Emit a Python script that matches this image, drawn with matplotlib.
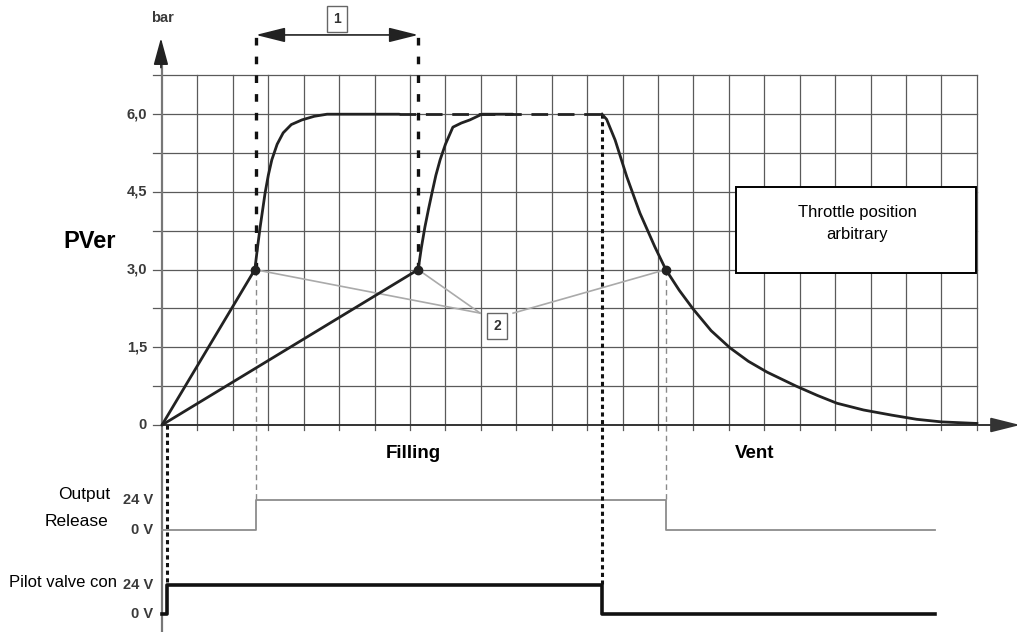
import matplotlib
matplotlib.use("Agg")
import matplotlib.pyplot as plt
from matplotlib.patches import Rectangle

plt.rcParams['lines.scale_dashes'] = False
plain = 'Liberation Sans'

# pressure axis (bar), grid in cells of 0.75 bar / one time step
y_ticks = [0, 1.5, 3.0, 4.5, 6.0]
y_tick_labels = ["0", "1,5", "3,0", "4,5", "6,0"]
grid_cols = 23
grid_top = 6.75

# filling curve 1 (throttle open wide)
fill1_x = [0, 2.62, 2.7, 2.77, 2.84, 2.91, 3.0, 3.1, 3.25, 3.42, 3.65, 3.95, 4.3, 4.66, 6.7]
fill1_y = [0, 3.0, 3.45, 3.82, 4.15, 4.48, 4.82, 5.12, 5.42, 5.64, 5.8, 5.89, 5.96, 6.0, 6.0]

# filling curve 2 (throttle nearly closed)
fill2_x = [0, 7.23, 7.32, 7.42, 7.52, 7.62, 7.73, 7.85, 8.0, 8.21, 8.45, 8.69, 9.03, 9.9]
fill2_y = [0, 3.0, 3.42, 3.82, 4.16, 4.48, 4.82, 5.12, 5.42, 5.75, 5.83, 5.89, 6.0, 6.0]

# dashed hold level between the two curves
hold_x = [6.7, 12.42]
hold_y = [6.0, 6.0]

# vent curve
vent_x = [12.42, 12.55, 12.79, 13.12, 13.49, 13.91, 14.22, 14.6, 14.99, 15.5, 16.03, 16.55,
          17.08, 17.9, 18.5, 19.05, 19.8, 20.6, 21.3, 22.0, 23.0]
vent_y = [6.0, 5.9, 5.5, 4.79, 4.09, 3.44, 3.0, 2.6, 2.24, 1.82, 1.49, 1.23,
          1.02, 0.75, 0.57, 0.42, 0.29, 0.19, 0.11, 0.06, 0.03]

# switching points at 3,0 bar
dots_x = [2.62, 7.23, 14.22]
dots_y = [3.0, 3.0, 3.0]

# signal traces (levels placed below the pressure axis)
release_x = [0, 2.65, 2.65, 14.22, 14.22, 21.82]
release_y = [-2.03, -2.03, -1.45, -1.45, -2.03, -2.03]
pilot_x = [0, 0.14, 0.14, 12.42, 12.42, 21.82]
pilot_y = [-3.65, -3.65, -3.09, -3.09, -3.65, -3.65]
level_labels = ["24 V", "0 V", "24 V", "0 V"]
level_y = [-1.45, -2.03, -3.09, -3.65]

fig = plt.figure(figsize=(10.24, 6.32), dpi=100)
ax = fig.add_axes([0, 0, 1, 1])
ax.set_xlim(-162 / 35.43, (1024 - 162) / 35.43)
ax.set_ylim(-207 / 51.8, 425 / 51.8)
ax.axis('off')

gc = '#5a5a5a'
for c in range(1, grid_cols + 1):
    ax.plot([c, c], [-0.1, grid_top], color=gc, lw=0.9, zorder=1)
r = 0.75
while r <= grid_top + 0.01:
    ax.plot([-0.25, grid_cols], [r, r], color=gc, lw=0.9, zorder=1)
    r += 0.75
ax.plot([-0.25, 0], [0, 0], color=gc, lw=0.9, zorder=1)

# axes with arrows
ax.plot([0, 0], [-4.0, 7.05], color='#777777', lw=1.6, zorder=2)
ax.annotate("", xy=(-0.03, 7.47), xytext=(-0.03, 6.9),
            arrowprops=dict(arrowstyle='-|>,head_length=1.1,head_width=0.3', mutation_scale=15,
                            color='#222222', lw=1.2, shrinkA=0, shrinkB=0))
ax.annotate("", xy=(24.22, 0), xytext=(0, 0),
            arrowprops=dict(arrowstyle='-|>,head_length=1.2,head_width=0.3', mutation_scale=15,
                            color='#333333', lw=1.4, shrinkA=0, shrinkB=0), zorder=2)

for v, t in zip(y_ticks, y_tick_labels):
    ax.text(-0.42, v, t, ha='right', va='center', fontsize=10.5, fontweight='bold',
            color='#3a3a3a', family=plain)
ax.text(0.0, 7.86, "bar", ha='center', va='center', fontsize=10.5, fontweight='bold',
        color='#3a3a3a', family=plain)

# marker lines
ax.plot([2.65, 2.65], [3.0, 7.66], color='#111111', lw=2.4, dashes=(5.5, 8), zorder=4)
ax.plot([7.23, 7.23], [3.0, 7.66], color='#111111', lw=2.4, dashes=(5.5, 8), zorder=4)
ax.plot([12.42, 12.42], [6.0, -3.09], color='#111111', lw=2.2, dashes=(3, 2.5), zorder=4)
ax.plot([0.14, 0.14], [0, -3.09], color='#111111', lw=2.2, dashes=(3, 2.5), zorder=4)
ax.plot([2.65, 2.65], [3.0, -1.45], color='#8a8a8a', lw=1.0, dashes=(4, 3), zorder=3)
ax.plot([14.22, 14.22], [3.0, -1.45], color='#8a8a8a', lw=1.0, dashes=(4, 3), zorder=3)

ax.annotate("", xy=(2.65, 7.53), xytext=(7.23, 7.53),
            arrowprops=dict(arrowstyle='<|-|>,head_length=1.2,head_width=0.3', mutation_scale=15,
                            color='#222222', lw=1.2, shrinkA=0, shrinkB=0))
ax.text(4.94, 7.84, "1", ha='center', va='center', fontsize=10, fontweight='bold', color='#333333',
        family=plain, bbox=dict(boxstyle='square,pad=0.45', fc='white', ec='#666666', lw=1.0))

# pressure curves
ax.plot(fill1_x, fill1_y, color='#222222', lw=2.0, zorder=5, solid_capstyle='round', solid_joinstyle='round')
ax.plot(fill2_x, fill2_y, color='#222222', lw=2.0, zorder=5, solid_capstyle='round', solid_joinstyle='round')
ax.plot(hold_x, hold_y, color='#222222', lw=2.0, dashes=(12, 7), zorder=5)
ax.plot(vent_x, vent_y, color='#222222', lw=2.0, zorder=5, solid_joinstyle='round')

# leader lines to marker 2
ax.plot([dots_x[0], 8.98], [3.0, 2.16], color='#aaaaaa', lw=1.2, zorder=4)
ax.plot([dots_x[1], 8.98], [3.0, 2.16], color='#aaaaaa', lw=1.2, zorder=4)
ax.plot([9.91, dots_x[2]], [2.16, 3.0], color='#aaaaaa', lw=1.2, zorder=4)
ax.plot(dots_x, dots_y, 'o', color='#222222', ms=6, zorder=6)
ax.text(9.46, 1.91, "2", ha='center', va='center', fontsize=10, fontweight='bold', color='#333333',
        family=plain, bbox=dict(boxstyle='square,pad=0.45', fc='white', ec='#666666', lw=1.0), zorder=6)

# throttle note
ax.add_patch(Rectangle((16.2, 2.93), 6.78, 1.66, fc='white', ec='black', lw=1.4, zorder=6))
ax.text(19.62, 3.89, "Throttle position\narbitrary", ha='center', va='center', fontsize=12,
        family=plain, linespacing=1.6, zorder=7)

ax.text(-2.79, 3.54, "PVer", ha='left', va='center', fontsize=17, fontweight='bold', family=plain)
ax.text(7.1, -0.55, "Filling", ha='center', va='center', fontsize=13.5, fontweight='bold', family=plain)
ax.text(16.74, -0.55, "Vent", ha='center', va='center', fontsize=13.5, fontweight='bold', family=plain)

# signal traces
ax.plot(release_x, release_y, color='#8c8c8c', lw=1.3, zorder=3)
ax.plot(pilot_x, pilot_y, color='#111111', lw=2.6, zorder=3)
for lv, t in zip(level_y, level_labels):
    ax.text(-0.25, lv, t, ha='right', va='center', fontsize=10.5, fontweight='bold',
            color='#3a3a3a', family=plain)
ax.text(-1.47, -1.35, "Output", ha='right', va='center', fontsize=12.5, family=plain)
ax.text(-1.52, -1.87, "Release", ha='right', va='center', fontsize=12.5, family=plain)
ax.text(-4.32, -3.05, "Pilot valve con", ha='left', va='center', fontsize=12, family=plain)

fig.savefig("out.png", dpi=100)
